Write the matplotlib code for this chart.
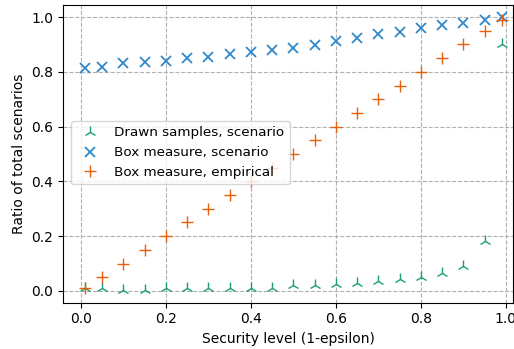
import matplotlib
matplotlib.use("Agg")
import matplotlib.pyplot as plt

security = [0.01, 0.05, 0.10, 0.15, 0.20, 0.25, 0.30, 0.35, 0.40, 0.45, 0.50,
            0.55, 0.60, 0.65, 0.70, 0.75, 0.80, 0.85, 0.90, 0.95, 0.99]
drawn_scenario = [0.01, 0.01, 0.005, 0.005, 0.01, 0.012, 0.01, 0.012, 0.01, 0.01, 0.02,
                  0.02, 0.025, 0.028, 0.035, 0.042, 0.05, 0.067, 0.092, 0.182, 0.90]
box_scenario = [0.813, 0.818, 0.831, 0.836, 0.839, 0.849, 0.853, 0.864, 0.873, 0.878, 0.888,
                0.899, 0.914, 0.922, 0.939, 0.944, 0.960, 0.970, 0.979, 0.989, 1.0]
box_empirical = [0.01, 0.05, 0.10, 0.15, 0.20, 0.25, 0.30, 0.35, 0.40, 0.45, 0.50,
                 0.55, 0.60, 0.65, 0.70, 0.75, 0.80, 0.85, 0.90, 0.95, 0.99]

plt.rcParams['font.size'] = 10
fig = plt.figure(figsize=(5.14, 3.49), dpi=100)
ax = fig.add_axes([63/514, 1-302.7/349, 450/514, 297.7/349])

ax.plot(security, drawn_scenario, linestyle='none', marker='2', markersize=9,
        color='#1b9e77', label='Drawn samples, scenario')
ax.plot(security, box_scenario, linestyle='none', marker='x', markersize=6.5,
        markeredgewidth=1.3, color='#3288c8', label='Box measure, scenario')
ax.plot(security, box_empirical, linestyle='none', marker='+', markersize=9,
        color='#e6600d', label='Box measure, empirical')

ax.set_xlim(-0.042, 1.017)
ax.set_ylim(-0.043, 1.044)
ax.grid(True, linestyle='--', color='#b0b0b0', linewidth=0.8)
ax.set_axisbelow(True)
ax.set_xlabel('Security level (1-epsilon)')
ax.set_ylabel('Ratio of total scenarios')
ax.legend(loc='upper left', bbox_to_anchor=(0.018, 0.61), borderaxespad=0, fontsize=9.7)

fig.savefig('out.png', dpi=100)
